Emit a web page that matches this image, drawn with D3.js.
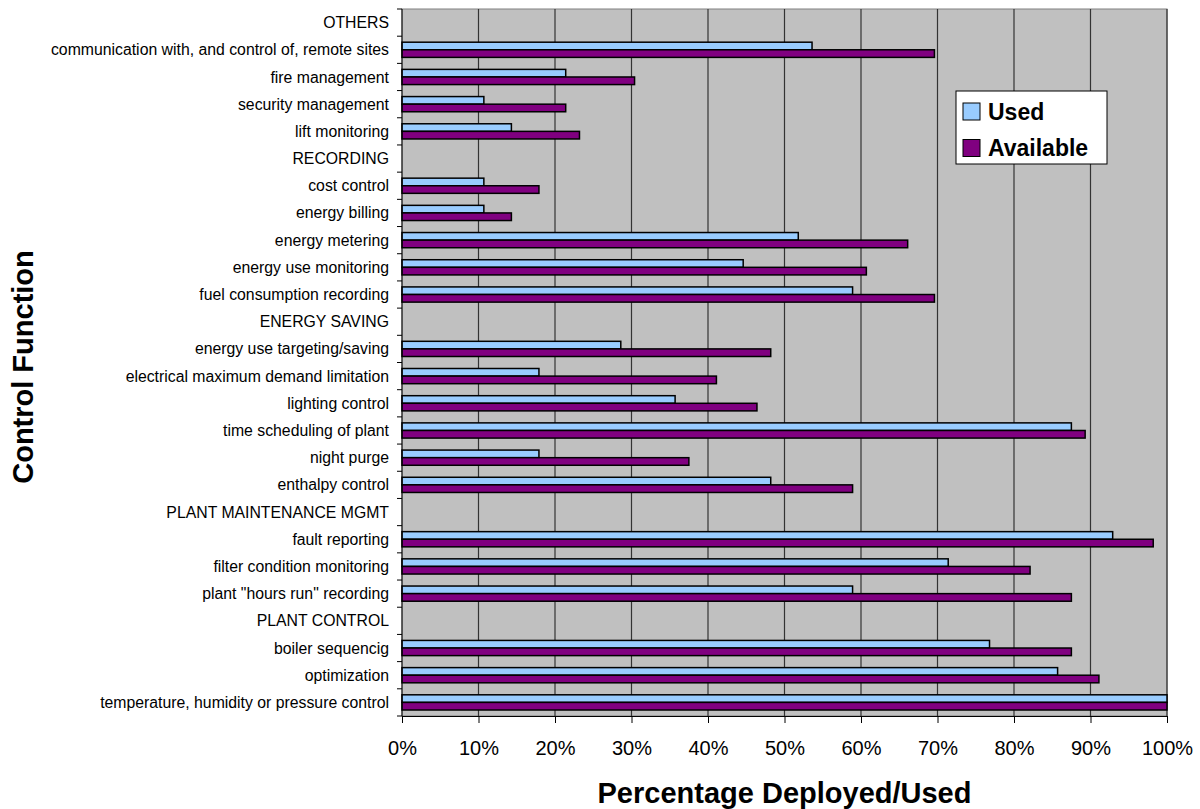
<!DOCTYPE html>
<html>
<head>
<meta charset="utf-8">
<script src="https://cdn.jsdelivr.net/npm/d3@7"></script>
<style>
  body { margin: 0; background: #fff; }
  text { font-family: Arial, "Liberation Sans", sans-serif; }
</style>
</head>
<body>
<script>
// rows top to bottom; section headers have no bars
var categories = [
  'OTHERS',
  'communication with, and control of, remote sites',
  'fire management',
  'security management',
  'lift monitoring',
  'RECORDING',
  'cost control',
  'energy billing',
  'energy metering',
  'energy use monitoring',
  'fuel consumption recording',
  'ENERGY SAVING',
  'energy use targeting/saving',
  'electrical maximum demand limitation',
  'lighting control',
  'time scheduling of plant',
  'night purge',
  'enthalpy control',
  'PLANT MAINTENANCE MGMT',
  'fault reporting',
  'filter condition monitoring',
  'plant "hours run" recording',
  'PLANT CONTROL',
  'boiler sequencig',
  'optimization',
  'temperature, humidity or pressure control'
];
var usedValues = [null, 53.6, 21.4, 10.7, 14.3, null, 10.7, 10.7, 51.8, 44.6, 58.9, null, 28.6, 17.9, 35.7, 87.5, 17.9, 48.2, null, 92.9, 71.4, 58.9, null, 76.8, 85.7, 100];
var availableValues = [null, 69.6, 30.4, 21.4, 23.2, null, 17.9, 14.3, 66.1, 60.7, 69.6, null, 48.2, 41.1, 46.4, 89.3, 37.5, 58.9, null, 98.2, 82.1, 87.5, null, 87.5, 91.1, 100];
var seriesNames = ['Used', 'Available'];
var seriesColors = ['#99ccff', '#800080'];
var xTicks = [0, 10, 20, 30, 40, 50, 60, 70, 80, 90, 100];

var W = 1200, H = 809;
var plotL = 402, plotR = 1167, plotT = 9, plotB = 716;

var svg = d3.select('body').append('svg').attr('width', W).attr('height', H)

var x = d3.scaleLinear().domain([0, 100]).range([plotL, plotR])
var y = d3.scaleBand().domain(categories).range([plotT, plotB]).padding(0)
var ySeries = d3.scaleBand().domain(seriesNames).range([0, y.bandwidth()]).paddingOuter(0.79).paddingInner(0)

// plot area
svg.append('rect')
  .attr('x', plotL).attr('y', plotT)
  .attr('width', plotR - plotL).attr('height', plotB - plotT)
  .attr('fill', '#c0c0c0')
  .attr('stroke', '#808080')

// vertical gridlines
svg.append('g').selectAll('line')
  .data(xTicks.slice(1))
  .enter().append('line')
    .attr('x1', d => x(d)).attr('x2', d => x(d))
    .attr('y1', plotT).attr('y2', plotB)
    .attr('stroke', '#333').attr('stroke-width', 1.2)

// bars
var rows = categories.map((c, i) => ({cat: c, vals: [usedValues[i], availableValues[i]]}))
var rowGroups = svg.append('g').selectAll('g')
  .data(rows)
  .enter().append('g')
    .attr('transform', d => `translate(0, ${y(d.cat)})`)

rowGroups.selectAll('rect')
  .data(d => d.vals.map((v, j) => ({name: seriesNames[j], v: v})).filter(e => e.v != null))
  .enter().append('rect')
    .attr('x', x(0))
    .attr('y', d => ySeries(d.name))
    .attr('width', d => x(d.v) - x(0))
    .attr('height', ySeries.bandwidth())
    .attr('fill', d => seriesColors[seriesNames.indexOf(d.name)])
    .attr('stroke', '#000').attr('stroke-width', 1.5)

// y axis
var yAxis = svg.append('g')
  .attr('transform', `translate(${plotL}, 0)`)
yAxis.append('line').attr('x1', 0).attr('x2', 0).attr('y1', plotT).attr('y2', plotB).attr('stroke', '#000')
yAxis.selectAll('line.tick')
  .data(d3.range(categories.length + 1))
  .enter().append('line')
    .attr('class', 'tick')
    .attr('x1', -5).attr('x2', 0)
    .attr('y1', i => plotT + i * y.step()).attr('y2', i => plotT + i * y.step())
    .attr('stroke', '#000')
yAxis.selectAll('text')
  .data(categories)
  .enter().append('text')
    .attr('x', -13)
    .attr('y', d => y(d) + y.bandwidth() / 2)
    .attr('dy', '0.35em')
    .attr('text-anchor', 'end')
    .attr('font-size', '15.8px')
    .attr('fill', '#000')
    .text(d => d)

// x axis
var xAxis = svg.append('g').attr('transform', `translate(0, ${plotB})`)
  .call(d3.axisBottom(x).tickValues(xTicks).tickFormat(d => d + '%').tickSize(7).tickPadding(0))
xAxis.select('.domain').attr('stroke', '#000')
xAxis.selectAll('.tick line').attr('stroke', '#000')
xAxis.selectAll('.tick text')
  .attr('y', 39).attr('dy', 0)
  .attr('font-size', '20px')
  .attr('font-family', 'Arial, "Liberation Sans", sans-serif')
  .attr('fill', '#000')

// axis titles
svg.append('text')
  .attr('x', (plotL + plotR) / 2).attr('y', 803)
  .attr('text-anchor', 'middle')
  .attr('font-size', '29px').attr('font-weight', 'bold')
  .text('Percentage Deployed/Used')

svg.append('text')
  .attr('transform', 'translate(33, 367) rotate(-90)')
  .attr('text-anchor', 'middle')
  .attr('font-size', '29px').attr('font-weight', 'bold')
  .text('Control Function')

// legend
var legend = svg.append('g').attr('transform', 'translate(956, 91)')
legend.append('rect')
  .attr('width', 151).attr('height', 73)
  .attr('fill', '#fff').attr('stroke', '#000')
seriesNames.forEach((name, i) => {
  legend.append('rect')
    .attr('x', 7).attr('y', 12 + i * 36.5)
    .attr('width', 17).attr('height', 17)
    .attr('fill', seriesColors[i]).attr('stroke', '#000')
  legend.append('text')
    .attr('x', 32).attr('y', 28.5 + i * 36.5)
    .attr('font-size', '23px').attr('font-weight', 'bold')
    .text(name)
})
</script>
</body>
</html>
